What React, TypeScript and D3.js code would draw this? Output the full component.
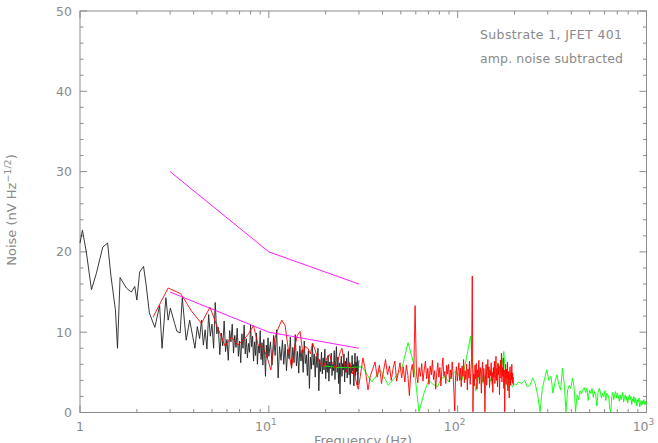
import React from 'react';
import * as d3 from 'd3';

const W = 658;
const H = 443;
const PLOT = { left: 80, right: 646.5, top: 11, bottom: 412.5 };

// black trace, 1-4 Hz read vertex by vertex
const blackLowFreq = [1.0, 1.03, 1.08, 1.15, 1.22, 1.32, 1.4, 1.46, 1.54, 1.58, 1.63, 1.76, 1.87, 1.95, 2.0, 2.07, 2.17,
  2.24, 2.33, 2.49, 2.64, 2.72, 2.85, 2.93, 3.01, 3.17, 3.26, 3.39, 3.48, 3.65, 3.81, 4.06, 4.18];
const blackLowVal = [21.1, 22.7, 20.0, 15.3, 17.3, 20.6, 21.1, 16.9, 12.8, 8.0, 16.8, 15.5, 15.0, 15.7, 14.0, 17.5, 18.2,
  15.9, 12.4, 10.6, 13.3, 8.0, 14.3, 11.5, 13.0, 11.1, 10.1, 9.9, 14.3, 9.0, 11.5, 8.0, 10.7];

const BLACK_MID_START = 4.3;
const BLACK_MID_STEP = 0.1;
const blackMid = [9.2, 11.5, 8.4, 10.3, 7.9, 12.2, 9.5, 11.0, 8.0, 13.7, 9.8, 10.6, 7.2, 9.9, 8.3, 11.4, 7.6, 9.1, 6.5,
  10.2, 8.8, 11.0, 7.4, 9.6, 8.1, 10.5, 7.0, 8.9, 6.2, 9.8, 8.0, 10.9, 7.3, 9.2, 6.8, 8.6, 7.5, 10.9, 8.2, 9.5, 6.4, 8.8,
  7.1, 9.9, 6.0, 8.3, 7.4, 10.2, 6.6, 8.7, 5.9, 9.1, 7.2, 4.5, 8.4, 6.8, 9.3, 7.0];

const BLACK_HIGH_START = 10.2;
const BLACK_HIGH_STEP = 0.2;
const blackHigh = [8.8, 5.9, 9.6, 7.1, 10.3, 4.3, 8.2, 6.5, 9.0, 6.0, 8.5, 5.2, 7.9, 6.7, 9.4, 5.5, 8.1, 6.2, 9.7, 5.8,
  7.6, 4.9, 8.3, 6.4, 7.8, 5.0, 8.9, 6.1, 7.2, 4.6, 7.7, 3.0, 6.9, 5.4, 8.6, 5.9, 7.3, 4.4, 7.0, 5.6, 8.0, 2.7, 6.6, 5.1,
  7.5, 4.8, 6.8, 5.3, 7.9, 4.2, 6.4, 5.0, 7.1, 3.9, 6.3, 5.5, 7.4, 4.6, 6.0, 5.2, 7.7, 4.1, 6.5, 8.2, 5.0, 6.9, 3.6, 6.2,
  2.3, 5.7, 7.0, 4.5, 6.1, 5.3, 7.3, 3.8, 6.4, 5.0, 6.8, 4.3, 5.9, 7.6, 4.7, 6.2, 3.5, 5.8, 4.9, 7.1, 5.2, 6.0, 3.3, 5.6,
  7.4, 4.6, 6.3, 5.1, 7.0, 3.4, 5.5, 6.5];

// red trace
const RED_LOW_START = 2.44;
const RED_LOW_STEP = 0.488;
const redLow = [11.9, 15.5, 14.8, 12.6, 11.1, 13.1, 10.5, 8.3, 9.4, 8.4, 9.0, 9.8, 10.8, 8.4, 8.2, 7.0, 5.3, 9.2, 10.5,
  11.5, 10.8, 7.8, 5.6, 8.0, 9.6, 10.1, 7.4, 8.2, 8.0, 7.3, 8.6, 7.8, 6.9, 6.3, 5.9, 5.7, 6.4, 7.0, 7.2, 6.4, 6.0, 5.5,
  5.8, 6.8, 7.6, 8.0, 6.6, 5.6, 5.1, 5.9, 6.2, 5.4, 4.8, 5.6, 4.2, 3.4, 2.9];

const RED_HIGH_START = 30.5;
const RED_HIGH_STEP = 1;
const redHigh = [4.5, 6.8, 5.2, 2.8, 4.6, 5.4, 6.3, 4.4, 5.9, 3.6, 5.2, 6.6, 4.7, 5.8, 4.0, 5.5, 6.4, 3.9, 5.0, 6.2,
  4.3, 5.7, 3.8, 5.9, 4.6, 2.1, 5.1, 6.0, 4.4, 13.3, 4.8, 3.7, 5.6, 4.5, 6.1, 3.9, 5.3, 6.4, 4.2, 5.5, 3.5, 5.8, 4.7,
  6.5, 4.1, 5.2, 2.9, 5.0, 6.2, 4.4, 5.6, 3.3, 5.4, 6.8, 4.5, 5.1, 3.6, 5.9, 4.8, 6.0, 3.8, 5.3, 4.2, 6.3, 5.0, 2.6,
  0.2, 4.6, 5.7, 3.9, 5.1, 6.2, 4.0, 5.5, 3.2, 5.8, 4.5, 6.6, 3.7, 5.2, 4.1, 6.0, 2.8, 5.4, 4.3, 6.4, 3.5, 5.0, 6.7,
  17.0, 0.1, 4.8, 3.3, 5.9, 4.2, 6.1, 2.9, 5.3, 4.4, 6.5, 3.6, 5.6, 4.9, 2.4, 5.2, 6.3, 3.8, 5.5, 4.1, 0.1, 4.7, 6.0,
  3.4, 5.1, 6.6, 4.3, 5.7, 3.1, 5.3, 4.6, 6.2, 3.9, 5.0, 2.5, 5.6, 4.4, 6.4, 3.6, 5.2, 7.0, 4.0, 5.5, 3.2, 6.1, 4.7,
  5.8, 2.2, 5.0, 6.5, 4.3, 7.4, 3.8, 5.6, 4.5, 6.8, 3.0, 5.3, 0.1, 4.6, 6.0, 3.5, 5.4, 4.2, 6.3, 2.7, 5.1, 3.9, 1.8,
  4.8, 5.7, 3.4, 5.0, 4.1, 6.0, 3.7, 4.9, 3.5, 4.4];

// green trace
const GREEN_LOW_START = 19.5;
const GREEN_LOW_STEP = 3.9;
const greenLow = [5.8, 5.6, 5.6, 5.7, 3.8, 5.3, 3.4, 4.4, 5.5, 8.7, 6.1, 0.1, 2.4, 4.0, 3.5, 3.2, 4.2, 4.5, 3.8, 4.8,
  5.1, 4.6, 4.0, 5.8, 7.6, 9.5, 5.0, 2.7, 4.3, 5.4, 3.6, 4.6, 5.7, 4.2, 3.5, 5.3, 4.1, 6.2, 5.0, 5.8, 7.6, 4.5, 3.2,
  4.8, 3.6, 3.2, 3.6];

const GREEN_HIGH_START = 202.8;
const GREEN_HIGH_STEP = 7.8;
const greenHigh = [3.4, 3.8, 3.6, 4.0, 3.2, 3.4, 4.3, 3.6, 2.2, 0.1, 3.0, 4.2, 5.3, 4.0, 4.5, 2.4, 3.8, 4.7, 3.5, 2.8,
  5.5, 3.6, 0.1, 2.8, 3.4, 3.0, 4.3, 3.2, 0.1, 2.2, 1.6, 2.7, 2.3, 2.8, 3.1, 2.5, 3.0, 1.5, 2.8, 2.4, 3.0, 1.9, 2.6,
  2.2, 0.8, 2.5, 3.0, 2.6, 1.8, 2.4, 2.0, 2.7, 1.5, 2.4, 2.2, 1.7, 0.4, 0.1, 2.0, 2.5, 1.6, 2.2, 2.6, 1.8, 2.4, 2.0,
  1.4, 2.2, 1.6, 2.0, 2.5, 1.3, 1.9, 2.2, 1.5, 2.0, 1.2, 1.8, 2.2, 1.6, 2.0, 1.0, 1.7, 1.4, 2.0, 1.2, 1.8, 1.5, 0.8,
  1.6, 1.3, 1.8, 0.7, 1.0, 1.5, 0.9, 1.4, 1.1, 1.6, 1.0, 1.4, 1.0, 1.3];

// magenta fit lines
const fitFreq = [3, 10, 30];
const fitUpper = [30, 20, 16];
const fitLower = [15, 10, 8];

const yMajor = [0, 10, 20, 30, 40, 50];
const xMajor = [1, 10, 100, 1000];
const xMajorLabels = [['1', ''], ['10', '1'], ['10', '2'], ['10', '3']];

const grid = (start: number, step: number, vals: number[]) =>
  vals.map((v, i) => [start + i * step, v] as [number, number]);

const AXIS = '#8c8c8c';
const TEXT = '#8a8a8a';
const FONT = '"DejaVu Sans", sans-serif';

export default function App() {
  const x = d3.scaleLog().domain([1, 1000]).range([PLOT.left, PLOT.right]);
  const y = d3.scaleLinear().domain([0, 50]).range([PLOT.bottom, PLOT.top]);
  const line = d3.line<[number, number]>().x(d => x(d[0])).y(d => y(d[1]));

  const black = [
    ...blackLowFreq.map((f, i) => [f, blackLowVal[i]] as [number, number]),
    ...grid(BLACK_MID_START, BLACK_MID_STEP, blackMid),
    ...grid(BLACK_HIGH_START, BLACK_HIGH_STEP, blackHigh),
  ];
  const red = [...grid(RED_LOW_START, RED_LOW_STEP, redLow), ...grid(RED_HIGH_START, RED_HIGH_STEP, redHigh)];
  const green = [...grid(GREEN_LOW_START, GREEN_LOW_STEP, greenLow), ...grid(GREEN_HIGH_START, GREEN_HIGH_STEP, greenHigh)];
  const upper = fitFreq.map((f, i) => [f, fitUpper[i]] as [number, number]);
  const lower = fitFreq.map((f, i) => [f, fitLower[i]] as [number, number]);

  const xMinor: number[] = [];
  [1, 10, 100].forEach(d => d3.range(2, 10).forEach(k => xMinor.push(d * k)));
  const yMinor = d3.range(0, 51, 2).filter(v => v % 10 !== 0);

  return (
    <svg width={W} height={H} style={{ position: 'absolute', left: 0, top: 0, background: '#fff' }}
      fontFamily={FONT}>
      <g stroke={AXIS} strokeWidth={1} fill="none">
        <rect x={PLOT.left} y={PLOT.top} width={PLOT.right - PLOT.left} height={PLOT.bottom - PLOT.top} />
        {xMajor.map(v => (
          <g key={'xM' + v}>
            <line x1={x(v)} x2={x(v)} y1={PLOT.bottom} y2={PLOT.bottom - 7} />
            <line x1={x(v)} x2={x(v)} y1={PLOT.top} y2={PLOT.top + 7} />
          </g>
        ))}
        {xMinor.map(v => (
          <g key={'xm' + v}>
            <line x1={x(v)} x2={x(v)} y1={PLOT.bottom} y2={PLOT.bottom - 3.5} />
            <line x1={x(v)} x2={x(v)} y1={PLOT.top} y2={PLOT.top + 3.5} />
          </g>
        ))}
        {yMajor.map(v => (
          <g key={'yM' + v}>
            <line x1={PLOT.left} x2={PLOT.left + 7} y1={y(v)} y2={y(v)} />
            <line x1={PLOT.right} x2={PLOT.right - 7} y1={y(v)} y2={y(v)} />
          </g>
        ))}
        {yMinor.map(v => (
          <g key={'ym' + v}>
            <line x1={PLOT.left} x2={PLOT.left + 3.5} y1={y(v)} y2={y(v)} />
            <line x1={PLOT.right} x2={PLOT.right - 3.5} y1={y(v)} y2={y(v)} />
          </g>
        ))}
      </g>

      <g fill="none" strokeWidth={0.9} strokeLinejoin="round">
        <path d={line(black) || ''} stroke="#222222" />
        <path d={line(green) || ''} stroke="#00ff00" />
        <path d={line(red) || ''} stroke="#ff0000" />
        <path d={line(upper) || ''} stroke="#ff00ff" />
        <path d={line(lower) || ''} stroke="#ff00ff" />
      </g>

      <g fill={TEXT} fontSize={12.5}>
        {yMajor.map(v => (
          <text key={'yl' + v} x={PLOT.left - 8} y={y(v) + 4.5} textAnchor="end">{v}</text>
        ))}
        {xMajor.map((v, i) => (
          <text key={'xl' + v} x={x(v) + (i === 0 ? 0 : -3)} y={PLOT.bottom + 18} textAnchor="middle">
            {xMajorLabels[i][0]}
            {xMajorLabels[i][1] && <tspan dy={-6} fontSize={9}>{xMajorLabels[i][1]}</tspan>}
          </text>
        ))}
        <text x={363} y={445} textAnchor="middle" fontSize={13}>Frequency (Hz)</text>
        <text transform="translate(16,210) rotate(-90)" textAnchor="middle" fontSize={13}>
          Noise (nV Hz<tspan dy={-5} fontSize={9.5}>−1/2</tspan><tspan dy={5}>)</tspan>
        </text>
        <text x={480} y={39} fontSize={12.5} textLength={142} lengthAdjust="spacing">Substrate 1, JFET 401</text>
        <text x={480} y={63} fontSize={12.5} textLength={143} lengthAdjust="spacing">amp. noise subtracted</text>
      </g>
    </svg>
  );
}
